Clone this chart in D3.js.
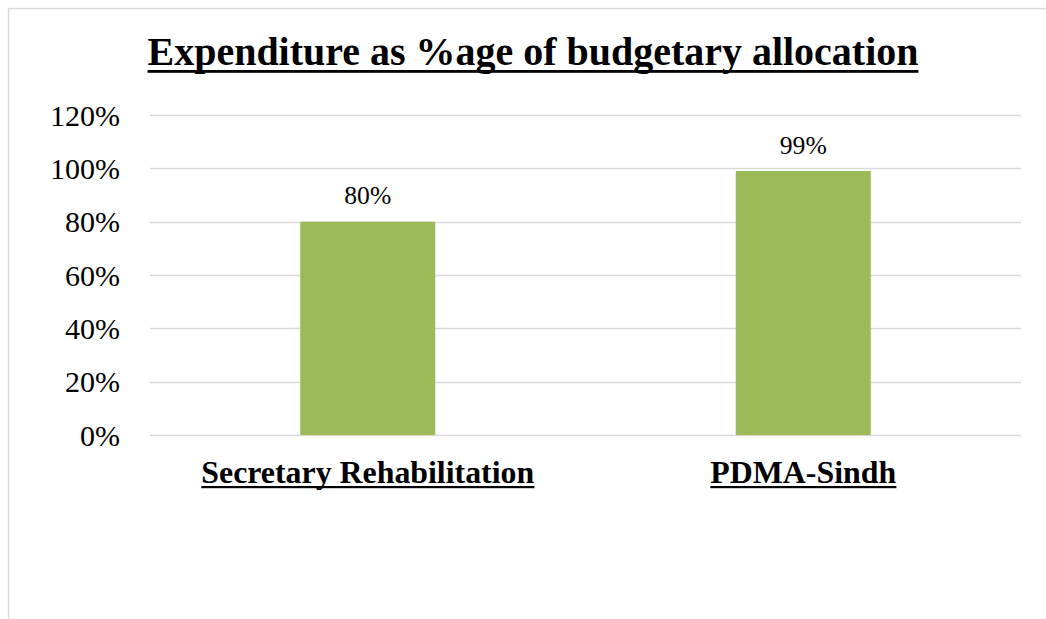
<html>
<head>
<meta charset="utf-8">
<script src="https://cdn.jsdelivr.net/npm/d3@7"></script>
</head>
<body style="margin:0">
<svg id="chart" width="1046" height="619" style="display:block"></svg>
<script>
const title = "Expenditure as %age of budgetary allocation";
const categories = ["Secretary Rehabilitation", "PDMA-Sindh"];
const values = [0.80, 0.99];
const dataLabels = ["80%", "99%"];
const yTicks = [0, 0.2, 0.4, 0.6, 0.8, 1.0, 1.2];

const FONT = '"Liberation Serif"';
const svg = d3.select("#chart");

// fit a font size so that the text has the target width
function fitSize(str, weight, targetWidth) {
  const t = svg.append("text").style("font-family", FONT).style("font-weight", weight)
    .style("font-size", "100px").text(str);
  const w = t.node().getComputedTextLength();
  t.remove();
  return 100 * targetWidth / w;
}

// chart border (clipped at right/bottom like the screenshot)
svg.append("rect").attr("x", 8.5).attr("y", 8.5).attr("width", 1060).attr("height", 640)
  .attr("fill", "#fff").attr("stroke", "#d9d9d9").attr("stroke-width", 1.5);

const plot = { left: 150, right: 1021, top: 115, bottom: 435 };

const x = d3.scaleBand().domain(categories).range([plot.left, plot.right]).paddingInner(0.69).paddingOuter(0.345);
const y = d3.scaleLinear().domain([0, 1.2]).range([plot.bottom, plot.top]);

// gridlines
svg.append("g").selectAll("line").data(yTicks).join("line")
  .attr("x1", plot.left).attr("x2", plot.right)
  .attr("y1", d => Math.round(y(d)) + 0.5).attr("y2", d => Math.round(y(d)) + 0.5)
  .attr("stroke", "#d9d9d9").attr("stroke-width", 1.5);

// y axis labels
const fmt = d3.format(".0%");
const tickSize = fitSize("120%", "normal", 70);
svg.append("g").selectAll("text").data(yTicks).join("text")
  .attr("x", 120).attr("y", d => y(d) + 10.5)
  .attr("text-anchor", "end")
  .style("font-family", FONT).style("font-size", tickSize + "px")
  .text(d => fmt(d));

// bars
svg.append("g").selectAll("rect").data(values).join("rect")
  .attr("x", (d, i) => x(categories[i])).attr("width", x.bandwidth())
  .attr("y", d => y(d)).attr("height", d => y(0) - y(d))
  .attr("fill", "#9bbb59");

// data labels
const dlSize = fitSize("80%", "normal", 47);
svg.append("g").selectAll("text").data(values).join("text")
  .attr("x", (d, i) => x(categories[i]) + x.bandwidth() / 2)
  .attr("y", d => y(d) - 17.5)
  .attr("text-anchor", "middle")
  .style("font-family", FONT).style("font-size", dlSize + "px")
  .text((d, i) => dataLabels[i]);

function underline(sel, offset, thick) {
  sel.each(function() {
    const b = this.getBBox();
    const yy = +d3.select(this).attr("y") + offset;
    d3.select(this.parentNode).append("rect")
      .attr("x", b.x).attr("y", yy).attr("width", b.width).attr("height", thick).attr("fill", "#000");
  });
}

// category labels
const catSize = fitSize(categories[0], "bold", 333);
const cat = svg.append("g").selectAll("text").data(categories).join("text")
  .attr("x", d => x(d) + x.bandwidth() / 2).attr("y", 483)
  .attr("text-anchor", "middle")
  .style("font-family", FONT).style("font-size", catSize + "px").style("font-weight", "bold")
  .text(d => d);
underline(cat, 3, 2.2);

// title
const titleSize = fitSize(title, "bold", 771);
const t = svg.append("g").append("text")
  .attr("x", 533).attr("y", 65).attr("text-anchor", "middle")
  .style("font-family", FONT).style("font-size", titleSize + "px").style("font-weight", "bold")
  .text(title);
underline(t, 5, 2.8);
</script>
</body>
</html>
